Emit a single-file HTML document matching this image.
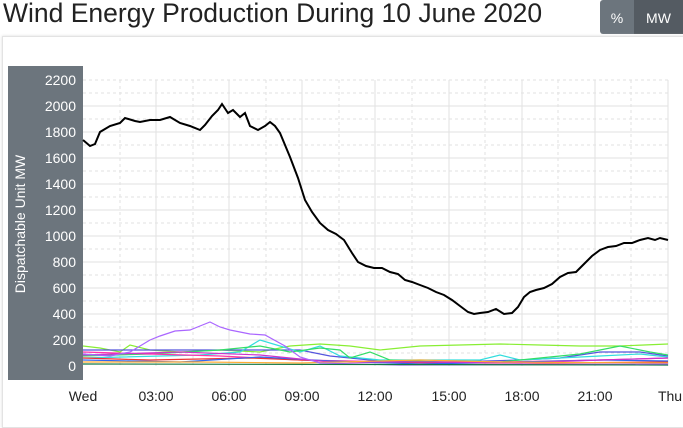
<!DOCTYPE html>
<html><head><meta charset="utf-8"><style>
body{margin:0;width:683px;height:416px;background:#fff;font-family:"Liberation Sans",sans-serif;overflow:hidden;position:relative}
.t{position:absolute;left:3px;top:-2px;font-size:26.5px;color:#222;white-space:nowrap}
.b{position:absolute;top:0;height:34px;color:#fff;font-size:14px;line-height:36px;text-align:center}
.card{position:absolute;left:2px;top:36px;width:690px;height:390px;border:1px solid #e3e3e3;box-shadow:0 0 3px #ddd}
</style></head><body>
<div class="t">Wind Energy Production During 10 June 2020</div>
<div class="b" style="left:600px;width:34px;background:#6c757d;border-radius:3px 0 0 3px">%</div>
<div class="b" style="left:634px;width:49px;background:#545b62">MW</div>
<div class="card"></div>
<svg style="position:absolute;left:0;top:0" width="683" height="416" font-family="Liberation Sans, sans-serif">
<rect x="8" y="66" width="75" height="314" fill="#6c757d"/>
<g stroke="#e2e2e2" stroke-width="1">
<line x1="83" x2="668" y1="340" y2="340"/><line x1="83" x2="668" y1="314" y2="314"/><line x1="83" x2="668" y1="288" y2="288"/><line x1="83" x2="668" y1="262" y2="262"/><line x1="83" x2="668" y1="236" y2="236"/><line x1="83" x2="668" y1="210" y2="210"/><line x1="83" x2="668" y1="184" y2="184"/><line x1="83" x2="668" y1="158" y2="158"/><line x1="83" x2="668" y1="132" y2="132"/><line x1="83" x2="668" y1="106" y2="106"/>
<line x1="156" x2="156" y1="80" y2="366"/><line x1="229" x2="229" y1="80" y2="366"/><line x1="302" x2="302" y1="80" y2="366"/><line x1="375" x2="375" y1="80" y2="366"/><line x1="449" x2="449" y1="80" y2="366"/><line x1="522" x2="522" y1="80" y2="366"/><line x1="595" x2="595" y1="80" y2="366"/><line x1="668" x2="668" y1="80" y2="366"/>
</g>
<g stroke="#e2e2e2" stroke-dasharray="3,3">
<line x1="83" x2="668" y1="80" y2="80"/><line x1="83" x2="668" y1="353" y2="353"/><line x1="83" x2="668" y1="327" y2="327"/><line x1="83" x2="668" y1="301" y2="301"/><line x1="83" x2="668" y1="275" y2="275"/><line x1="83" x2="668" y1="249" y2="249"/><line x1="83" x2="668" y1="223" y2="223"/><line x1="83" x2="668" y1="197" y2="197"/><line x1="83" x2="668" y1="171" y2="171"/><line x1="83" x2="668" y1="145" y2="145"/><line x1="83" x2="668" y1="119" y2="119"/><line x1="83" x2="668" y1="93" y2="93"/>
<line x1="120" x2="120" y1="80" y2="366"/><line x1="193" x2="193" y1="80" y2="366"/><line x1="266" x2="266" y1="80" y2="366"/><line x1="339" x2="339" y1="80" y2="366"/><line x1="412" x2="412" y1="80" y2="366"/><line x1="485" x2="485" y1="80" y2="366"/><line x1="558" x2="558" y1="80" y2="366"/><line x1="631" x2="631" y1="80" y2="366"/>
</g>
<g fill="#fff" font-size="14" text-anchor="end">
<text x="76" y="85">2200</text><text x="76" y="111">2000</text><text x="76" y="137">1800</text><text x="76" y="163">1600</text><text x="76" y="189">1400</text><text x="76" y="215">1200</text><text x="76" y="241">1000</text><text x="76" y="267">800</text><text x="76" y="293">600</text><text x="76" y="319">400</text><text x="76" y="345">200</text><text x="76" y="371">0</text>
</g>
<text transform="translate(25,224) rotate(-90)" fill="#fff" font-size="14" text-anchor="middle">Dispatchable Unit MW</text>
<g fill="#222" font-size="14" text-anchor="middle">
<text x="83" y="401">Wed</text><text x="156" y="401">03:00</text><text x="229" y="401">06:00</text><text x="302" y="401">09:00</text><text x="375" y="401">12:00</text><text x="449" y="401">15:00</text><text x="522" y="401">18:00</text><text x="595" y="401">21:00</text><text x="670" y="401">Thu</text>
</g>
<g fill="none" stroke-width="1.2">
<polyline stroke="#88ee33" points="83,346 100,348 120,352 130,345 150,350 180,352 220,350 260,352 290,346 320,344 350,346 380,350 420,346 460,345 500,344 540,345 580,346 620,346 668,344"/>
<polyline stroke="#5555dd" points="83,350 300,350 330,356 380,361 450,362 520,360 560,358 600,352 640,352 668,356"/>
<polyline stroke="#33dddd" points="83,358 200,355 240,352 260,340 280,346 300,352 320,346 340,356 380,360 440,360 480,360 500,355 520,360 560,358 600,356 640,354 668,357"/>
<polyline stroke="#33dd66" points="83,356 150,354 220,350 260,346 290,352 320,348 340,350 350,358 370,352 390,360 440,362 500,362 540,358 580,354 620,346 650,352 668,355"/>
<polyline stroke="#ff33aa" points="83,352 150,354 220,356 300,360 400,362 500,362 600,360 668,358"/>
<polyline stroke="#ee3333" points="83,358 150,360 250,358 350,362 450,363 550,363 668,362"/>
<polyline stroke="#3366ee" points="83,360 180,362 260,357 330,361 420,364 520,362 600,360 668,361"/>
<polyline stroke="#cc33cc" points="83,355 180,352 260,355 330,362 420,362 520,363 600,360 668,358"/>
<polyline stroke="#ffaa33" points="83,362 200,362 300,363 420,360 500,362 668,363"/>
<polyline stroke="#aa66ff" points="83,354 110,356 130,352 150,340 160,336 175,331 190,330 200,326 210,322 220,327 230,330 250,334 265,335 285,346 300,357 320,363 400,365 668,364"/>
<polyline stroke="#117744" points="83,364 668,365"/>
</g>
<polyline fill="none" stroke="#000" stroke-width="2" points="83,140 90,146 95,144 100,132 110,126 120,123 125,118 135,121 140,122 150,120 160,120 170,117 180,123 190,126 200,130 205,125 212,116 218,110 222,104 228,113 233,110 240,117 245,113 250,126 258,130 265,126 270,122 275,126 280,133 290,157 298,178 305,200 312,212 320,223 328,230 336,234 344,240 352,253 358,262 366,266 374,268 382,268 390,272 398,274 405,280 412,282 420,285 428,288 436,292 444,295 452,300 460,306 468,312 474,314 480,313 488,312 496,309 504,314 512,313 518,307 524,297 530,292 536,290 544,288 552,284 560,277 568,273 576,272 584,264 592,256 600,250 608,247 616,246 624,243 632,243 640,240 648,238 655,240 660,238 668,240"/>
</svg>
</body></html>
